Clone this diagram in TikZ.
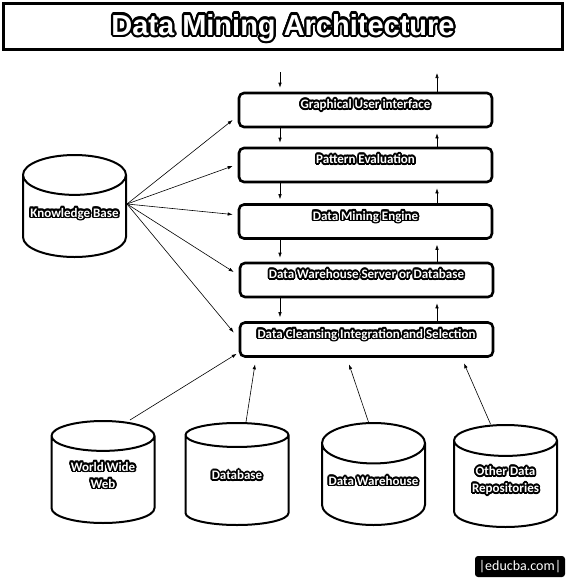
\documentclass[tikz,border=0pt]{standalone}
\usepackage{fontspec}
\setmainfont{Carlito}
\newfontfamily\headfont{Liberation Sans}
\usepackage{contour}
\usetikzlibrary{shapes.geometric,arrows.meta}

\tikzset{
	layer/.style={draw,line width=2.6pt,rounded corners=5pt,minimum width=253pt,minimum height=34pt,text height=9pt,text depth=12pt,font=\bfseries\fontsize{13}{15}\selectfont},
	store/.style={draw,line width=2pt,cylinder,shape border rotate=90,aspect=0.42,minimum width=103pt,minimum height=102pt,anchor=shape center,align=center,text depth=15pt,font=\bfseries\fontsize{13}{17}\selectfont},
	link/.style={-{Latex[length=5pt,width=3.5pt]},line width=0.6pt}
}
\newcommand{\halo}[2][1.7pt]{{\contourlength{#1}\textcolor{white}{\contour{black}{#2}}}}

\begin{document}
\begin{tikzpicture}[x=1pt,y=-1pt]
				\useasboundingbox (0,0) rectangle (566,582);
				
				% title
				\node[draw,line width=3pt,minimum width=559pt,minimum height=46pt,text height=24pt,text depth=6pt,font=\headfont\bfseries\fontsize{29}{32}\selectfont] (title) at (283,26) {\halo[2.2pt]{Data Mining Architecture}};
				
				% layers
				\node[layer] (gui) at (365.5,110) {\halo{Graphical User interface}};
				\node[layer] (pe) at (365.5,165) {\halo{Pattern Evaluation}};
				\node[layer] (dme) at (365.5,221.5) {\halo{Data Mining Engine}};
				\node[layer] (dws) at (366.5,280) {\halo{Data Warehouse Server or Database}};
				\node[layer] (cl) at (366.5,339.5) {\halo{Data Cleansing Integration and Selection}};
				
				% sources
				\node[store] (kb) at (74.5,206) {\halo{Knowledge Base}};
				\node[store] (www) at (103,472) {\halo{World Wide}\\\halo{Web}};
				\node[store] (db) at (237,474) {\halo{Database}};
				\node[store] (dw) at (373.5,474) {\halo{Data Warehouse}};
				\node[store] (oth) at (505.5,476) {\halo{Other Data}\\\halo{Repositories}};
				
				\node[fill=black,text=white,rounded corners=3pt,minimum width=90pt,minimum height=21pt,font=\fontsize{14}{16}\selectfont] (logo) at (520,566.5) {\textbar educba.com\textbar};
				
				% arrows between layers
				\coordinate (dn) at (280,72);
				\coordinate (up) at (437,73);
				\draw[link] (dn) -- ([yshift=4pt]gui.north -| dn);
				\draw[link] (gui.north -| up) -- (up);
				\foreach \a/\b in {gui/pe,pe/dme,dme/dws,dws/cl} {
					\draw[link] (\a.south -| dn) -- ([yshift=4pt]\b.north -| dn);
					\draw[link] (\b.north -| up) -- ([yshift=-5pt]\a.south -| up);
				}
				
				% knowledge base
				\coordinate (kbo) at ([yshift=16pt]kb.east);
				\foreach \b/\s in {gui/-10pt,pe/-1pt,dme/7pt,dws/8pt,cl/7pt}
					\draw[link] (kbo) -- ([xshift=-5pt,yshift=\s]\b.west);
				
				% sources into cleansing
				\draw[link] ([xshift=27pt]www.north) -- ([xshift=-2pt,yshift=4pt]cl.south west);
				\draw[link] ([xshift=9pt]db.north) -- ([xshift=-111.5pt,yshift=-6.5pt]cl.south);
				\draw[link] ([xshift=-5pt]dw.north) -- ([xshift=-17.5pt,yshift=-6.5pt]cl.south);
				\draw[link] ([xshift=-15pt]oth.north) -- ([xshift=97.5pt,yshift=-5.5pt]cl.south);
\end{tikzpicture}
\end{document}
